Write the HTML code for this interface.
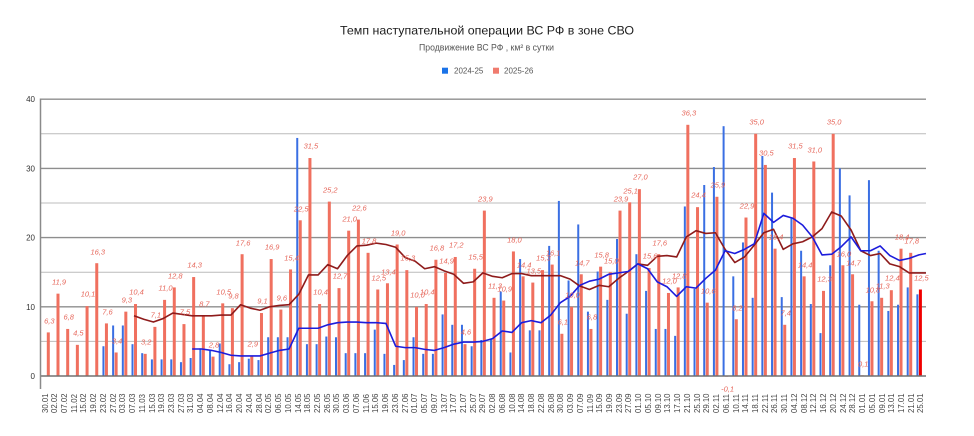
<!DOCTYPE html>
<html><head><meta charset="utf-8">
<style>
html,body{margin:0;padding:0;background:#fff;}
body{width:974px;height:436px;position:relative;overflow:hidden;font-family:"Liberation Sans","DejaVu Sans",sans-serif;}
svg{position:absolute;left:0;top:0;}
.xl{position:absolute;top:393px;left:calc(41.5px + var(--i)*9.733px);width:8px;height:20px;writing-mode:vertical-rl;transform:rotate(180deg);font-size:7.8px;line-height:8px;color:#444;white-space:nowrap;}
.dl{position:absolute;left:calc(49.3px + var(--i)*9.69px);top:calc(364.3px - var(--v)*6.92px);transform:translate(-50%,-50%);font-style:italic;font-size:7.5px;line-height:7.5px;color:#e6675b;white-space:nowrap;}
</style></head>
<body>
<svg width="974" height="436" viewBox="0 0 974 436" font-family="Liberation Sans, DejaVu Sans, sans-serif">
<text x="340" y="34.3" font-size="12" textLength="294" lengthAdjust="spacingAndGlyphs" fill="#1e1e1e">Темп наступательной операции ВС РФ в зоне СВО</text>
<text x="419" y="50.5" font-size="9" textLength="135" lengthAdjust="spacingAndGlyphs" fill="#555">Продвижение ВС РФ , км² в сутки</text>
<rect x="442" y="67.7" width="6" height="6" fill="#1a73e8"/>
<text x="454" y="73.6" font-size="8" fill="#555">2024-25</text>
<rect x="493" y="67.7" width="6" height="6" fill="#f07b6e"/>
<text x="504" y="73.6" font-size="8" fill="#555">2025-26</text>

<g stroke-width="1">
<line x1="40" x2="926" y1="341.4" y2="341.4" stroke="#bcbcbc"/>
<line x1="40" x2="926" y1="306.8" y2="306.8" stroke="#8e8e8e" stroke-width="1.4"/>
<line x1="40" x2="926" y1="272.2" y2="272.2" stroke="#bcbcbc"/>
<line x1="40" x2="926" y1="237.6" y2="237.6" stroke="#8e8e8e" stroke-width="1.4"/>
<line x1="40" x2="926" y1="203" y2="203" stroke="#bcbcbc"/>
<line x1="40" x2="926" y1="168.4" y2="168.4" stroke="#8e8e8e" stroke-width="1.4"/>
<line x1="40" x2="926" y1="133.8" y2="133.8" stroke="#bcbcbc"/>
<line x1="40" x2="926" y1="99.2" y2="99.2" stroke="#8e8e8e" stroke-width="1.4"/>
</g>
<g font-size="8" fill="#333" text-anchor="end">
<text x="35" y="102.2">40</text>
<text x="35" y="171.4">30</text>
<text x="35" y="240.6">20</text>
<text x="35" y="309.8">10</text>
<text x="35" y="379">0</text>
</g>

<g transform="translate(46.8 376) scale(9.69 -6.92)">
<g fill="#f0705f">
<rect x="0" width=".31" height="6.3"/><rect x="1" width=".31" height="11.9"/><rect x="2" width=".31" height="6.8"/><rect x="3" width=".31" height="4.5"/><rect x="4" width=".31" height="10.1"/><rect x="5" width=".31" height="16.3"/><rect x="6" width=".31" height="7.6"/><rect x="7" width=".31" height="3.4"/><rect x="8" width=".31" height="9.3"/><rect x="9" width=".31" height="10.4"/>
<rect x="10" width=".31" height="3.2"/><rect x="11" width=".31" height="7.1"/><rect x="12" width=".31" height="11.0"/><rect x="13" width=".31" height="12.8"/><rect x="14" width=".31" height="7.5"/><rect x="15" width=".31" height="14.3"/><rect x="16" width=".31" height="8.7"/><rect x="17" width=".31" height="2.8"/><rect x="18" width=".31" height="10.5"/><rect x="19" width=".31" height="9.8"/>
<rect x="20" width=".31" height="17.6"/><rect x="21" width=".31" height="2.9"/><rect x="22" width=".31" height="9.1"/><rect x="23" width=".31" height="16.9"/><rect x="24" width=".31" height="9.6"/><rect x="25" width=".31" height="15.4"/><rect x="26" width=".31" height="22.5"/><rect x="27" width=".31" height="31.5"/><rect x="28" width=".31" height="10.4"/><rect x="29" width=".31" height="25.2"/>
<rect x="30" width=".31" height="12.7"/><rect x="31" width=".31" height="21.0"/><rect x="32" width=".31" height="22.6"/><rect x="33" width=".31" height="17.8"/><rect x="34" width=".31" height="12.5"/><rect x="35" width=".31" height="13.4"/><rect x="36" width=".31" height="19.0"/><rect x="37" width=".31" height="15.3"/><rect x="38" width=".31" height="10.0"/><rect x="39" width=".31" height="10.4"/>
<rect x="40" width=".31" height="16.8"/><rect x="41" width=".31" height="14.9"/><rect x="42" width=".31" height="17.2"/><rect x="43" width=".31" height="4.6"/><rect x="44" width=".31" height="15.5"/><rect x="45" width=".31" height="23.9"/><rect x="46" width=".31" height="11.3"/><rect x="47" width=".31" height="10.9"/><rect x="48" width=".31" height="18.0"/><rect x="49" width=".31" height="14.4"/>
<rect x="50" width=".31" height="13.5"/><rect x="51" width=".31" height="15.3"/><rect x="52" width=".31" height="16.1"/><rect x="53" width=".31" height="6.1"/><rect x="54" width=".31" height="10.0"/><rect x="55" width=".31" height="14.7"/><rect x="56" width=".31" height="6.8"/><rect x="57" width=".31" height="15.8"/><rect x="58" width=".31" height="15.0"/><rect x="59" width=".31" height="23.9"/>
<rect x="60" width=".31" height="25.1"/><rect x="61" width=".31" height="27.0"/><rect x="62" width=".31" height="15.6"/><rect x="63" width=".31" height="17.6"/><rect x="64" width=".31" height="12.0"/><rect x="65" width=".31" height="12.8"/><rect x="66" width=".31" height="36.3"/><rect x="67" width=".31" height="24.4"/><rect x="68" width=".31" height="10.6"/><rect x="69" width=".31" height="25.9"/>
<rect x="70" y="-0.1" width=".31" height="0.1"/><rect x="71" width=".31" height="8.2"/><rect x="72" width=".31" height="22.9"/><rect x="73" width=".31" height="35.0"/><rect x="74" width=".31" height="30.5"/><rect x="75" width=".31" height="18.4"/><rect x="76" width=".31" height="7.4"/><rect x="77" width=".31" height="31.5"/><rect x="78" width=".31" height="14.4"/><rect x="79" width=".31" height="31.0"/>
<rect x="80" width=".31" height="12.3"/><rect x="81" width=".31" height="35.0"/><rect x="82" width=".31" height="16.0"/><rect x="83" width=".31" height="14.7"/><rect x="84" width=".31" height="0.1"/><rect x="85" width=".31" height="10.8"/><rect x="86" width=".31" height="11.3"/><rect x="87" width=".31" height="12.4"/><rect x="88" width=".31" height="18.4"/><rect x="89" width=".31" height="17.8"/>
<rect x="90" width=".31" height="12.5" fill="#f00000"/>
</g>
<g fill="#3a6fe3" transform="translate(-0.258 0)">
<rect x="6" width=".206" height="4.3"/><rect x="7" width=".206" height="7.3"/><rect x="8" width=".206" height="7.3"/><rect x="9" width=".206" height="4.6"/>
<rect x="10" width=".206" height="3.3"/><rect x="11" width=".206" height="2.4"/><rect x="12" width=".206" height="2.4"/><rect x="13" width=".206" height="2.4"/><rect x="14" width=".206" height="2.0"/><rect x="15" width=".206" height="2.6"/><rect x="16" width=".206" height="4.0"/><rect x="17" width=".206" height="3.8"/><rect x="18" width=".206" height="4.7"/><rect x="19" width=".206" height="1.7"/>
<rect x="20" width=".206" height="2.0"/><rect x="21" width=".206" height="2.5"/><rect x="22" width=".206" height="2.3"/><rect x="23" width=".206" height="5.6"/><rect x="24" width=".206" height="5.6"/><rect x="25" width=".206" height="5.6"/><rect x="26" width=".206" height="34.4"/><rect x="27" width=".206" height="4.6"/><rect x="28" width=".206" height="4.6"/><rect x="29" width=".206" height="5.7"/>
<rect x="30" width=".206" height="5.6"/><rect x="31" width=".206" height="3.3"/><rect x="32" width=".206" height="3.3"/><rect x="33" width=".206" height="3.3"/><rect x="34" width=".206" height="6.7"/><rect x="35" width=".206" height="3.2"/><rect x="36" width=".206" height="1.6"/><rect x="37" width=".206" height="2.3"/><rect x="38" width=".206" height="5.6"/><rect x="39" width=".206" height="3.2"/>
<rect x="40" width=".206" height="3.2"/><rect x="41" width=".206" height="8.9"/><rect x="42" width=".206" height="7.4"/><rect x="43" width=".206" height="7.4"/><rect x="44" width=".206" height="4.3"/><rect x="45" width=".206" height="5.2"/><rect x="46" width=".206" height="5.3"/><rect x="47" width=".206" height="12.2"/><rect x="48" width=".206" height="3.4"/><rect x="49" width=".206" height="16.9"/>
<rect x="50" width=".206" height="6.6"/><rect x="51" width=".206" height="6.6"/><rect x="52" width=".206" height="18.8"/><rect x="53" width=".206" height="25.3"/><rect x="54" width=".206" height="13.8"/><rect x="55" width=".206" height="21.9"/><rect x="56" width=".206" height="9.3"/><rect x="57" width=".206" height="15.1"/><rect x="58" width=".206" height="11.0"/><rect x="59" width=".206" height="19.8"/>
<rect x="60" width=".206" height="9.0"/><rect x="61" width=".206" height="17.6"/><rect x="62" width=".206" height="12.3"/><rect x="63" width=".206" height="6.8"/><rect x="64" width=".206" height="6.8"/><rect x="65" width=".206" height="5.8"/><rect x="66" width=".206" height="24.5"/><rect x="67" width=".206" height="12.6"/><rect x="68" width=".206" height="27.6"/><rect x="69" width=".206" height="30.2"/>
<rect x="70" width=".206" height="36.1"/><rect x="71" width=".206" height="14.4"/><rect x="72" width=".206" height="19.3"/><rect x="73" width=".206" height="11.3"/><rect x="74" width=".206" height="31.8"/><rect x="75" width=".206" height="26.5"/><rect x="76" width=".206" height="11.4"/><rect x="77" width=".206" height="22.9"/><rect x="78" width=".206" height="18.1"/><rect x="79" width=".206" height="10.4"/>
<rect x="80" width=".206" height="6.2"/><rect x="81" width=".206" height="16.0"/><rect x="82" width=".206" height="30.0"/><rect x="83" width=".206" height="26.1"/><rect x="84" width=".206" height="10.3"/><rect x="85" width=".206" height="28.3"/><rect x="86" width=".206" height="18.1"/><rect x="87" width=".206" height="9.4"/><rect x="88" width=".206" height="10.3"/><rect x="89" width=".206" height="12.8"/>
<rect x="90" width=".206" height="11.8"/>
</g>
<polyline fill="none" stroke="#8e1b1b" stroke-width="1.6" vector-effect="non-scaling-stroke" stroke-linejoin="round" points="9,8.7 10,8.2 11,7.8 12,8.3 13,9.1 14,8.9 15,8.7 16,8.7 17,8.7 18,8.8 19,8.8 20,10.3 21,9.8 22,9.5 23,10.0 24,10.2 25,10.3 26,11.8 27,14.6 28,14.6 29,16.1 30,15.5 31,17.4 32,18.8 33,18.9 34,19.2 35,19.0 36,18.6 37,17.1 38,16.6 39,15.5 40,15.8 41,15.2 42,14.7 43,13.4 44,13.6 45,14.9 46,14.4 47,14.2 48,14.8 49,14.8 50,14.5 51,14.5 52,14.5 53,14.5 54,14.0 55,13.0 56,12.5 57,13.1 58,12.9 59,14.1 60,15.1 61,16.2 62,16.0 63,17.3 64,17.4 65,17.2 66,20.1 67,21.0 68,20.6 69,20.7 70,18.3 71,16.4 72,17.2 73,18.9 74,20.7 75,21.2 76,18.3 77,19.1 78,19.4 79,20.1 80,21.3 81,23.7 82,23.1 83,21.1 84,18.1 85,17.4 86,17.7 87,16.2 88,15.8 89,14.9 90,14.9 90.73,14.9"/>
<polyline fill="none" stroke="#1c1cdc" stroke-width="1.6" vector-effect="non-scaling-stroke" stroke-linejoin="round" points="15,3.9 16,3.9 17,3.7 18,3.4 19,3.0 20,2.9 21,2.9 22,2.9 23,3.3 24,3.7 25,3.9 26,6.9 27,6.9 28,6.9 29,7.4 30,7.7 31,7.8 32,7.8 33,7.7 34,7.7 35,7.6 36,4.3 37,4.1 38,4.1 39,3.85 40,3.7 41,4.1 42,4.6 43,4.9 44,4.9 45,5.0 46,5.4 47,6.5 48,6.3 49,7.7 50,8.0 51,7.7 52,8.8 53,10.6 54,11.5 55,13.1 56,13.7 57,14.0 58,14.7 59,14.9 60,15.1 61,16.2 62,15.5 63,13.6 64,12.9 65,11.5 66,12.9 67,12.7 68,14.1 69,15.3 70,18.1 71,17.7 72,18.3 73,19.1 74,23.5 75,22.2 76,23.2 77,22.8 78,21.8 79,20.1 80,17.5 81,17.6 82,18.7 83,20.1 84,18.1 85,18.1 86,18.8 87,17.4 88,16.7 89,17.0 90,17.5 90.73,17.7"/>
</g>
<line x1="40" x2="926" y1="376" y2="376" stroke="#707070" stroke-width="1.5"/>
<line x1="40.5" x2="40.5" y1="98.5" y2="389" stroke="#8a8a8a" stroke-width="1.5"/>
</svg>

<div class="dl" style="--i:0;--v:6.3">6,3</div><div class="dl" style="--i:1;--v:11.9">11,9</div><div class="dl" style="--i:2;--v:6.8">6,8</div><div class="dl" style="--i:3;--v:4.5">4,5</div><div class="dl" style="--i:4;--v:10.1">10,1</div><div class="dl" style="--i:5;--v:16.3">16,3</div><div class="dl" style="--i:6;--v:7.6">7,6</div><div class="dl" style="--i:7;--v:3.4">3,4</div><div class="dl" style="--i:8;--v:9.3">9,3</div><div class="dl" style="--i:9;--v:10.4">10,4</div>
<div class="dl" style="--i:10;--v:3.2">3,2</div><div class="dl" style="--i:11;--v:7.1">7,1</div><div class="dl" style="--i:12;--v:11.0">11,0</div><div class="dl" style="--i:13;--v:12.8">12,8</div><div class="dl" style="--i:14;--v:7.5">7,5</div><div class="dl" style="--i:15;--v:14.3">14,3</div><div class="dl" style="--i:16;--v:8.7">8,7</div><div class="dl" style="--i:17;--v:2.8">2,8</div><div class="dl" style="--i:18;--v:10.5">10,5</div><div class="dl" style="--i:19;--v:9.8">9,8</div>
<div class="dl" style="--i:20;--v:17.6">17,6</div><div class="dl" style="--i:21;--v:2.9">2,9</div><div class="dl" style="--i:22;--v:9.1">9,1</div><div class="dl" style="--i:23;--v:16.9">16,9</div><div class="dl" style="--i:24;--v:9.6">9,6</div><div class="dl" style="--i:25;--v:15.4">15,4</div><div class="dl" style="--i:26;--v:22.5">22,5</div><div class="dl" style="--i:27;--v:31.5">31,5</div><div class="dl" style="--i:28;--v:10.4">10,4</div><div class="dl" style="--i:29;--v:25.2">25,2</div>
<div class="dl" style="--i:30;--v:12.7">12,7</div><div class="dl" style="--i:31;--v:21.0">21,0</div><div class="dl" style="--i:32;--v:22.6">22,6</div><div class="dl" style="--i:33;--v:17.8">17,8</div><div class="dl" style="--i:34;--v:12.5">12,5</div><div class="dl" style="--i:35;--v:13.4">13,4</div><div class="dl" style="--i:36;--v:19.0">19,0</div><div class="dl" style="--i:37;--v:15.3">15,3</div><div class="dl" style="--i:38;--v:10.0">10,0</div><div class="dl" style="--i:39;--v:10.4">10,4</div>
<div class="dl" style="--i:40;--v:16.8">16,8</div><div class="dl" style="--i:41;--v:14.9">14,9</div><div class="dl" style="--i:42;--v:17.2">17,2</div><div class="dl" style="--i:43;--v:4.6">4,6</div><div class="dl" style="--i:44;--v:15.5">15,5</div><div class="dl" style="--i:45;--v:23.9">23,9</div><div class="dl" style="--i:46;--v:11.3">11,3</div><div class="dl" style="--i:47;--v:10.9">10,9</div><div class="dl" style="--i:48;--v:18.0">18,0</div><div class="dl" style="--i:49;--v:14.4">14,4</div>
<div class="dl" style="--i:50;--v:13.5">13,5</div><div class="dl" style="--i:51;--v:15.3">15,3</div><div class="dl" style="--i:52;--v:16.1">16,1</div><div class="dl" style="--i:53;--v:6.1">6,1</div><div class="dl" style="--i:54;--v:10.0">10,0</div><div class="dl" style="--i:55;--v:14.7">14,7</div><div class="dl" style="--i:56;--v:6.8">6,8</div><div class="dl" style="--i:57;--v:15.8">15,8</div><div class="dl" style="--i:58;--v:15.0">15,0</div><div class="dl" style="--i:59;--v:23.9">23,9</div>
<div class="dl" style="--i:60;--v:25.1">25,1</div><div class="dl" style="--i:61;--v:27.0">27,0</div><div class="dl" style="--i:62;--v:15.6">15,6</div><div class="dl" style="--i:63;--v:17.6">17,6</div><div class="dl" style="--i:64;--v:12.0">12,0</div><div class="dl" style="--i:65;--v:12.8">12,8</div><div class="dl" style="--i:66;--v:36.3">36,3</div><div class="dl" style="--i:67;--v:24.4">24,4</div><div class="dl" style="--i:68;--v:10.6">10,6</div><div class="dl" style="--i:69;--v:25.9">25,9</div>
<div class="dl" style="--i:70;--v:-3.5">-0,1</div><div class="dl" style="--i:71;--v:8.2">8,2</div><div class="dl" style="--i:72;--v:22.9">22,9</div><div class="dl" style="--i:73;--v:35.0">35,0</div><div class="dl" style="--i:74;--v:30.5">30,5</div><div class="dl" style="--i:75;--v:18.4">18,4</div><div class="dl" style="--i:76;--v:7.4">7,4</div><div class="dl" style="--i:77;--v:31.5">31,5</div><div class="dl" style="--i:78;--v:14.4">14,4</div><div class="dl" style="--i:79;--v:31.0">31,0</div>
<div class="dl" style="--i:80;--v:12.3">12,3</div><div class="dl" style="--i:81;--v:35.0">35,0</div><div class="dl" style="--i:82;--v:16.0">16,0</div><div class="dl" style="--i:83;--v:14.7">14,7</div><div class="dl" style="--i:84;--v:0.1">0,1</div><div class="dl" style="--i:85;--v:10.8">10,8</div><div class="dl" style="--i:86;--v:11.3">11,3</div><div class="dl" style="--i:87;--v:12.4">12,4</div><div class="dl" style="--i:88;--v:18.4">18,4</div><div class="dl" style="--i:89;--v:17.8">17,8</div>
<div class="dl" style="--i:90;--v:12.5">12,5</div>

<div class="xl" style="--i:0">30.01</div><div class="xl" style="--i:1">02.02</div><div class="xl" style="--i:2">07.02</div><div class="xl" style="--i:3">11.02</div><div class="xl" style="--i:4">15.02</div><div class="xl" style="--i:5">19.02</div><div class="xl" style="--i:6">23.02</div><div class="xl" style="--i:7">27.02</div><div class="xl" style="--i:8">03.03</div><div class="xl" style="--i:9">07.03</div>
<div class="xl" style="--i:10">11.03</div><div class="xl" style="--i:11">15.03</div><div class="xl" style="--i:12">19.03</div><div class="xl" style="--i:13">23.03</div><div class="xl" style="--i:14">27.03</div><div class="xl" style="--i:15">31.03</div><div class="xl" style="--i:16">04.04</div><div class="xl" style="--i:17">08.04</div><div class="xl" style="--i:18">12.04</div><div class="xl" style="--i:19">16.04</div>
<div class="xl" style="--i:20">20.04</div><div class="xl" style="--i:21">24.04</div><div class="xl" style="--i:22">28.04</div><div class="xl" style="--i:23">02.05</div><div class="xl" style="--i:24">06.05</div><div class="xl" style="--i:25">10.05</div><div class="xl" style="--i:26">14.05</div><div class="xl" style="--i:27">18.05</div><div class="xl" style="--i:28">22.05</div><div class="xl" style="--i:29">26.05</div>
<div class="xl" style="--i:30">30.05</div><div class="xl" style="--i:31">03.06</div><div class="xl" style="--i:32">07.06</div><div class="xl" style="--i:33">11.06</div><div class="xl" style="--i:34">15.06</div><div class="xl" style="--i:35">19.06</div><div class="xl" style="--i:36">23.06</div><div class="xl" style="--i:37">27.06</div><div class="xl" style="--i:38">01.07</div><div class="xl" style="--i:39">05.07</div>
<div class="xl" style="--i:40">09.07</div><div class="xl" style="--i:41">13.07</div><div class="xl" style="--i:42">17.07</div><div class="xl" style="--i:43">21.07</div><div class="xl" style="--i:44">25.07</div><div class="xl" style="--i:45">29.07</div><div class="xl" style="--i:46">02.08</div><div class="xl" style="--i:47">06.08</div><div class="xl" style="--i:48">10.08</div><div class="xl" style="--i:49">14.08</div>
<div class="xl" style="--i:50">18.08</div><div class="xl" style="--i:51">22.08</div><div class="xl" style="--i:52">26.08</div><div class="xl" style="--i:53">30.08</div><div class="xl" style="--i:54">03.09</div><div class="xl" style="--i:55">07.09</div><div class="xl" style="--i:56">11.09</div><div class="xl" style="--i:57">15.09</div><div class="xl" style="--i:58">19.09</div><div class="xl" style="--i:59">23.09</div>
<div class="xl" style="--i:60">27.09</div><div class="xl" style="--i:61">01.10</div><div class="xl" style="--i:62">05.10</div><div class="xl" style="--i:63">09.10</div><div class="xl" style="--i:64">13.10</div><div class="xl" style="--i:65">17.10</div><div class="xl" style="--i:66">21.10</div><div class="xl" style="--i:67">25.10</div><div class="xl" style="--i:68">29.10</div><div class="xl" style="--i:69">02.11</div>
<div class="xl" style="--i:70">06.11</div><div class="xl" style="--i:71">10.11</div><div class="xl" style="--i:72">14.11</div><div class="xl" style="--i:73">18.11</div><div class="xl" style="--i:74">22.11</div><div class="xl" style="--i:75">26.11</div><div class="xl" style="--i:76">30.11</div><div class="xl" style="--i:77">04.12</div><div class="xl" style="--i:78">08.12</div><div class="xl" style="--i:79">12.12</div>
<div class="xl" style="--i:80">16.12</div><div class="xl" style="--i:81">20.12</div><div class="xl" style="--i:82">24.12</div><div class="xl" style="--i:83">28.12</div><div class="xl" style="--i:84">01.01</div><div class="xl" style="--i:85">05.01</div><div class="xl" style="--i:86">09.01</div><div class="xl" style="--i:87">13.01</div><div class="xl" style="--i:88">17.01</div><div class="xl" style="--i:89">21.01</div>
<div class="xl" style="--i:90">25.01</div>
</body></html>
